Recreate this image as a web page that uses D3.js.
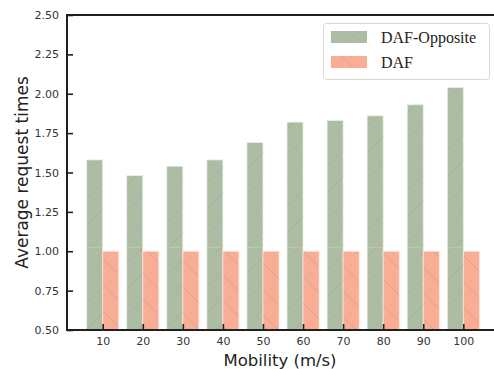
<!DOCTYPE html>
<html>
<head>
<meta charset="utf-8">
<script src="https://cdn.jsdelivr.net/npm/d3@7"></script>
<style>
  html, body { margin: 0; padding: 0; background: #fff; }
  svg { display: block; }
</style>
</head>
<body>
<svg id="chart" width="494" height="369"></svg>
<script>
// Mobility levels (m/s)
const mobility = [10, 20, 30, 40, 50, 60, 70, 80, 90, 100];
// Average request times per scheme
const dafOpposite = [1.58, 1.48, 1.54, 1.58, 1.69, 1.82, 1.83, 1.86, 1.93, 2.04];
const daf = [1.00, 1.00, 1.00, 1.00, 1.00, 1.00, 1.00, 1.00, 1.00, 1.00];
const yTicks = [0.50, 0.75, 1.00, 1.25, 1.50, 1.75, 2.00, 2.25, 2.50];
const seriesNames = ["DAF-Opposite", "DAF"];

const svg = d3.select("#chart");
const plotLeft = 67, plotTop = 15, plotBottom = 330, plotRight = 498;

const x = d3.scaleLinear().domain([10, 100]).range([102.7, 463.3]);
const y = d3.scaleLinear().domain([0.5, 2.5]).range([plotBottom, plotTop]);
const barW = 4; // bar width in data units (m/s)

const colGreen = "#adbda3", colOrange = "#f9ad94";

// hatch patterns
const defs = svg.append("defs");
function hatch(id, fill, dir) {
  const p = defs.append("pattern").attr("id", id)
    .attr("patternUnits", "userSpaceOnUse").attr("width", 26).attr("height", 26);
  p.append("rect").attr("width", 26).attr("height", 26).attr("fill", fill);
  const lines = dir === "/" ? [[0, 26, 26, 0], [-13, 13, 13, -13], [13, 39, 39, 13]]
                            : [[0, 0, 26, 26], [-13, 13, 13, 39], [13, -13, 39, 13]];
  lines.forEach(l => p.append("line")
    .attr("x1", l[0]).attr("y1", l[1]).attr("x2", l[2]).attr("y2", l[3])
    .attr("stroke", "#9a9a9a").attr("stroke-width", 0.6).attr("stroke-opacity", 0.7));
}
hatch("hGreen", colGreen, "/");
hatch("hOrange", colOrange, "\\");

const g = svg.append("g");

// DAF-Opposite bars (left of tick)
g.selectAll(".b1").data(mobility).join("rect")
  .attr("x", (d) => x(d - barW))
  .attr("width", (d) => x(d) - x(d - barW))
  .attr("y", (d, i) => y(dafOpposite[i]))
  .attr("height", (d, i) => y(0.5) - y(dafOpposite[i]))
  .attr("fill", "url(#hGreen)")
  .attr("stroke", "#e9eee6").attr("stroke-width", 0.8);

// faint seam across green bars
g.selectAll(".seam").data(mobility).join("line")
  .attr("x1", (d) => x(d - barW)).attr("x2", (d) => x(d))
  .attr("y1", y(1.025)).attr("y2", y(1.025))
  .attr("stroke", "#c9d4c3").attr("stroke-width", 0.6);

// DAF bars (right of tick)
g.selectAll(".b2").data(mobility).join("rect")
  .attr("x", (d) => x(d))
  .attr("width", (d) => x(d + barW) - x(d))
  .attr("y", (d, i) => y(daf[i]))
  .attr("height", (d, i) => y(0.5) - y(daf[i]))
  .attr("fill", "url(#hOrange)")
  .attr("stroke", "#fde3da").attr("stroke-width", 0.8);

// axes
const axisColor = "#231f20";
const yAxis = svg.append("g").attr("transform", `translate(${plotLeft},0)`)
  .call(d3.axisLeft(y).tickValues(yTicks).tickFormat(d3.format(".2f")).tickSizeInner(-6).tickSizeOuter(0).tickPadding(8));
yAxis.select(".domain").remove();
yAxis.selectAll(".tick line").attr("stroke", axisColor).attr("stroke-width", 1.6);
yAxis.selectAll(".tick text").attr("fill", "#333").style("font-family", "DejaVu Sans").style("font-size", "11px");

const xAxis = svg.append("g").attr("transform", `translate(0,${plotBottom})`)
  .call(d3.axisBottom(x).tickValues(mobility).tickFormat(d3.format("d")).tickSizeInner(-6).tickSizeOuter(0).tickPadding(7));
xAxis.select(".domain").remove();
xAxis.selectAll(".tick line").attr("stroke", axisColor).attr("stroke-width", 1.6);
xAxis.selectAll(".tick text").attr("fill", "#333").style("font-family", "DejaVu Sans").style("font-size", "11px");

// frame
svg.append("rect").attr("x", plotLeft).attr("y", plotTop)
  .attr("width", plotRight - plotLeft).attr("height", plotBottom - plotTop)
  .attr("fill", "none").attr("stroke", axisColor).attr("stroke-width", 2);

// axis labels
svg.append("text").attr("x", 280).attr("y", 366).attr("text-anchor", "middle")
  .style("font-family", "DejaVu Sans").style("font-size", "16.5px").attr("fill", "#222")
  .text("Mobility (m/s)");
svg.append("text").attr("transform", `translate(28,${(plotTop + plotBottom) / 2}) rotate(-90)`)
  .attr("text-anchor", "middle")
  .style("font-family", "DejaVu Sans").style("font-size", "17px").attr("fill", "#222")
  .text("Average request times");

// legend
const lg = svg.append("g");
lg.append("rect").attr("x", 323.5).attr("y", 23.5).attr("width", 166).attr("height", 56).attr("rx", 3)
  .attr("fill", "#fff").attr("fill-opacity", 0.9).attr("stroke", "#d8d8d8").attr("stroke-width", 1);
const fills = ["url(#hGreen)", "url(#hOrange)"];
seriesNames.forEach((name, i) => {
  const yy = 31 + i * 25;
  lg.append("rect").attr("x", 331).attr("y", yy).attr("width", 36).attr("height", 12).attr("fill", fills[i]);
  lg.append("text").attr("x", 381).attr("y", yy + 12)
    .style("font-family", "Liberation Serif").style("font-size", "16px").attr("fill", "#222")
    .text(name);
});
</script>
</body>
</html>
